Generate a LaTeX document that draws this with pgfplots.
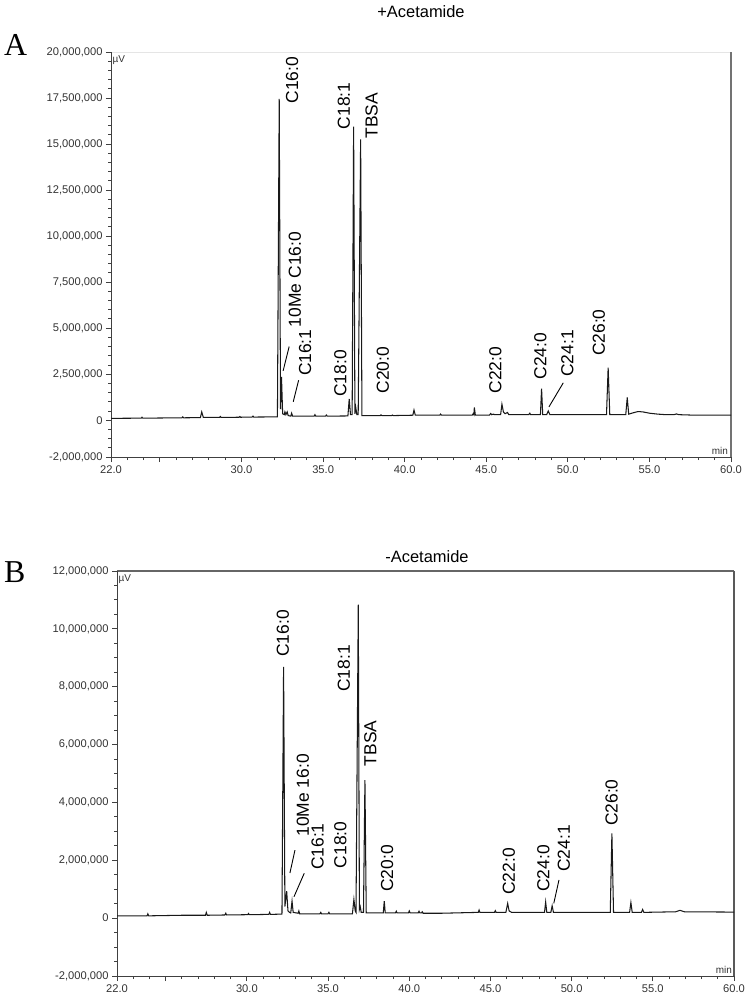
\documentclass[border=0pt]{standalone}
\usepackage{fontspec}
\setmainfont{Liberation Sans}
\newfontfamily\serifpanel{Liberation Serif}
\usepackage{pgfplots}
\pgfplotsset{compat=1.18}
\definecolor{tickgray}{HTML}{333333}
\definecolor{axgray}{HTML}{404040}
\pgfplotsset{
  chrom/.style={
    scale only axis, anchor=south west,
    xmin=22, xmax=60,
    axis line style={draw=none},
    tick pos=left, tick align=outside,
    major tick length=5bp, minor tick length=3bp,
    tick style={color=axgray, line width=0.9bp},
    xtick={22,25,30,35,40,45,50,55,60},
    xticklabels={22.0,,30.0,35.0,40.0,45.0,50.0,55.0,60.0},
    minor xtick={22,23,...,60},
    tick label style={font=\fontsize{11.2}{13}\selectfont, text=tickgray},
    clip=false,
  },
}
\tikzset{
  lbl/.style={rotate=90, anchor=west, inner sep=0pt, font=\fontsize{17.5}{20}\selectfont},
  ptr/.style={black, line width=0.9bp},
}
\begin{document}
\begin{tikzpicture}
\path[use as bounding box] (0bp,0bp) rectangle (750bp,-997bp);
\node[anchor=base west, inner sep=0pt, font=\serifpanel\fontsize{32}{34}\selectfont] at (4bp,-55bp) {A};
\node[anchor=base west, inner sep=0pt, font=\serifpanel\fontsize{32}{34}\selectfont] at (4bp,-582bp) {B};
\node[anchor=base, inner sep=0pt, font=\fontsize{16.5}{19}\selectfont] at (421bp,-17bp) {+Acetamide};
\node[anchor=base, inner sep=0pt, font=\fontsize{16.5}{19}\selectfont] at (427bp,-562.7bp) {-Acetamide};

% ---------------- Panel A ----------------
\begin{axis}[chrom, at={(111bp,-457bp)}, width=620bp, height=405bp,
  ymin=-2, ymax=20,
  ytick={-2,0,2.5,5,7.5,10,12.5,15,17.5,20},
  yticklabels={{-2,000,000},{0},{2,500,000},{5,000,000},{7,500,000},{10,000,000},{12,500,000},{15,000,000},{17,500,000},{20,000,000}},
  minor ytick={-2,-1.5,...,20},
]
\draw[color=black!10, line width=0.8bp] (rel axis cs:0,1) -- (rel axis cs:1,1);
\draw[color=black!55, line width=1.2bp] (rel axis cs:1,0) -- (rel axis cs:1,1);
\draw[color=axgray, line width=1bp] (rel axis cs:0,0) -- (rel axis cs:0,1);
\draw[color=axgray, line width=1bp] (rel axis cs:0,0) -- (rel axis cs:1,0);
\addplot[black!90, line width=1.05bp] coordinates {
(22.00,0.10) (23.85,0.11) (23.90,0.16) (23.95,0.11) (26.35,0.13) (26.40,0.18) (26.45,0.13)
(27.48,0.14) (27.56,0.45) (27.66,0.15) (28.65,0.15) (28.70,0.20) (28.75,0.15)
(29.85,0.16) (29.90,0.20) (29.95,0.16) (30.65,0.17) (30.70,0.22) (30.75,0.17)
(32.20,0.18) (32.31,17.45) (32.39,0.60) (32.45,2.35) (32.52,0.35) (32.62,0.30)
(32.66,0.45) (32.72,0.30) (32.80,0.45) (32.86,0.25) (33.02,0.22) (33.07,0.38) (33.13,0.22)
(34.45,0.22) (34.50,0.30) (34.55,0.22) (35.15,0.22) (35.20,0.28) (35.25,0.22)
(36.52,0.23) (36.60,1.15) (36.68,0.30) (36.78,0.30) (36.87,15.94) (36.95,0.35)
(37.00,0.70) (37.07,0.30) (37.15,0.30) (37.30,15.25) (37.38,0.25)
(38.50,0.25) (38.55,0.29) (38.60,0.25) (39.20,0.25) (39.25,0.28) (39.30,0.25)
(40.50,0.27) (40.57,0.55) (40.65,0.27) (42.15,0.27) (42.20,0.33) (42.25,0.27)
(44.15,0.28) (44.20,0.36) (44.24,0.30) (44.27,0.69) (44.33,0.28)
(45.20,0.28) (45.27,0.36) (45.33,0.30) (45.45,0.33) (45.50,0.30)
(45.88,0.30) (45.96,0.87) (46.05,0.45) (46.15,0.35) (46.30,0.42) (46.38,0.30)
(47.60,0.30) (47.67,0.38) (47.72,0.30)
(48.32,0.30) (48.39,1.72) (48.46,0.30) (48.70,0.30) (48.80,0.50) (48.90,0.30)
(52.37,0.30) (52.47,2.86) (52.57,0.30)
(53.55,0.30) (53.64,1.23) (53.73,0.33)
(54.00,0.40) (54.30,0.47) (54.60,0.45) (55.00,0.38) (55.50,0.33) (56.00,0.30)
(56.50,0.30) (56.66,0.34) (56.80,0.30) (57.50,0.28) (60.00,0.27)
};
\node[lbl] at (axis cs:33.1,17.2) {C16:0};
\node[lbl] at (axis cs:36.28,15.8) {C18:1};
\node[lbl] at (axis cs:37.98,15.3) {TBSA};
\node[lbl] at (axis cs:33.27,5.05) {10Me C16:0};
\node[lbl] at (axis cs:33.9,2.39) {C16:1};
\node[lbl] at (axis cs:36.06,1.27) {C18:0};
\node[lbl] at (axis cs:38.67,1.45) {C20:0};
\node[lbl] at (axis cs:45.56,1.45) {C22:0};
\node[lbl] at (axis cs:48.32,2.2) {C24:0};
\node[lbl] at (axis cs:49.97,2.35) {C24:1};
\node[lbl] at (axis cs:51.9,3.48) {C26:0};
\draw[ptr] (axis cs:32.55,2.68) -- (axis cs:32.92,4.0);
\draw[ptr] (axis cs:33.17,1.0) -- (axis cs:33.5,2.17);
\draw[ptr] (axis cs:48.84,0.72) -- (axis cs:49.72,2.03);
\node[anchor=north west, inner sep=0pt, font=\fontsize{10}{12}\selectfont, text=tickgray] at ([xshift=1.5bp,yshift=-3bp]rel axis cs:0,1) {µV};
\node[anchor=base east, inner sep=0pt, font=\fontsize{10}{12}\selectfont, text=tickgray] at ([xshift=-3bp,yshift=2.5bp]rel axis cs:1,0) {min};
\end{axis}

% ---------------- Panel B ----------------
\begin{axis}[chrom, at={(117bp,-976bp)}, width=617bp, height=405bp,
  ymin=-2, ymax=12,
  ytick={-2,0,2,4,6,8,10,12},
  yticklabels={{-2,000,000},{0},{2,000,000},{4,000,000},{6,000,000},{8,000,000},{10,000,000},{12,000,000}},
  minor ytick={-2,-1.5,...,12},
]
\draw[color=black!60, line width=1.2bp] (rel axis cs:0,1) -- (rel axis cs:1,1);
\draw[color=black!65, line width=1.2bp] (rel axis cs:1,0) -- (rel axis cs:1,1);
\draw[color=axgray, line width=1bp] (rel axis cs:0,0) -- (rel axis cs:0,1);
\draw[color=axgray, line width=1bp] (rel axis cs:0,0) -- (rel axis cs:1,0);
\addplot[black!90, line width=1.05bp] coordinates {
(22.00,0.08) (23.85,0.08) (23.90,0.15) (23.95,0.08) (26.00,0.10)
(27.45,0.10) (27.50,0.20) (27.56,0.10) (28.65,0.11) (28.70,0.17) (28.75,0.11)
(30.05,0.12) (30.10,0.16) (30.15,0.12) (31.35,0.13) (31.40,0.20) (31.45,0.13)
(32.16,0.14) (32.26,8.69) (32.34,0.40) (32.45,0.93) (32.53,0.25) (32.62,0.20)
(32.70,0.18) (32.78,0.59) (32.85,0.20) (33.15,0.17) (33.20,0.25) (33.25,0.15)
(34.50,0.15) (34.55,0.20) (34.60,0.15) (35.00,0.15) (35.05,0.20) (35.10,0.15)
(36.50,0.15) (36.59,0.65) (36.67,0.25) (36.72,0.20) (36.86,10.84) (36.93,0.30)
(36.98,0.40) (37.04,0.20) (37.18,0.20) (37.27,4.77) (37.35,0.18)
(38.40,0.18) (38.46,0.59) (38.52,0.18) (39.15,0.18) (39.20,0.24) (39.25,0.18)
(39.95,0.18) (40.00,0.25) (40.05,0.18) (40.55,0.18) (40.60,0.24) (40.65,0.18)
(40.75,0.18) (40.80,0.22) (40.85,0.17) (42.00,0.17)
(44.25,0.20) (44.30,0.28) (44.35,0.20) (45.25,0.20) (45.30,0.26) (45.35,0.20)
(45.95,0.20) (46.06,0.51) (46.15,0.25) (46.30,0.20)
(48.33,0.20) (48.40,0.56) (48.47,0.20) (48.72,0.20) (48.80,0.43) (48.88,0.20)
(52.38,0.20) (52.48,2.93) (52.58,0.20)
(53.57,0.20) (53.65,0.54) (53.73,0.20)
(54.30,0.20) (54.37,0.30) (54.45,0.20)
(56.40,0.22) (56.67,0.27) (56.95,0.22) (60.00,0.21)
};
\node[lbl] at (axis cs:32.22,9.03) {C16:0};
\node[lbl] at (axis cs:35.98,7.82) {C18:1};
\node[lbl] at (axis cs:37.6,5.25) {TBSA};
\node[lbl] at (axis cs:33.45,2.81) {10Me 16:0};
\node[lbl] at (axis cs:34.35,1.66) {C16:1};
\node[lbl] at (axis cs:35.76,1.72) {C18:0};
\node[lbl] at (axis cs:38.63,0.91) {C20:0};
\node[lbl] at (axis cs:46.14,0.8) {C22:0};
\node[lbl] at (axis cs:48.26,0.91) {C24:0};
\node[lbl] at (axis cs:49.52,1.6) {C24:1};
\node[lbl] at (axis cs:52.46,3.18) {C26:0};
\draw[ptr] (axis cs:32.65,1.56) -- (axis cs:32.96,2.35);
\draw[ptr] (axis cs:32.9,0.74) -- (axis cs:33.53,1.55);
\draw[ptr] (axis cs:48.9,0.51) -- (axis cs:49.22,1.32);
\node[anchor=north west, inner sep=0pt, font=\fontsize{10}{12}\selectfont, text=tickgray] at ([xshift=1.5bp,yshift=-3bp]rel axis cs:0,1) {µV};
\node[anchor=base east, inner sep=0pt, font=\fontsize{10}{12}\selectfont, text=tickgray] at ([xshift=-2bp,yshift=2.5bp]rel axis cs:1,0) {min};
\end{axis}
\end{tikzpicture}
\end{document}
